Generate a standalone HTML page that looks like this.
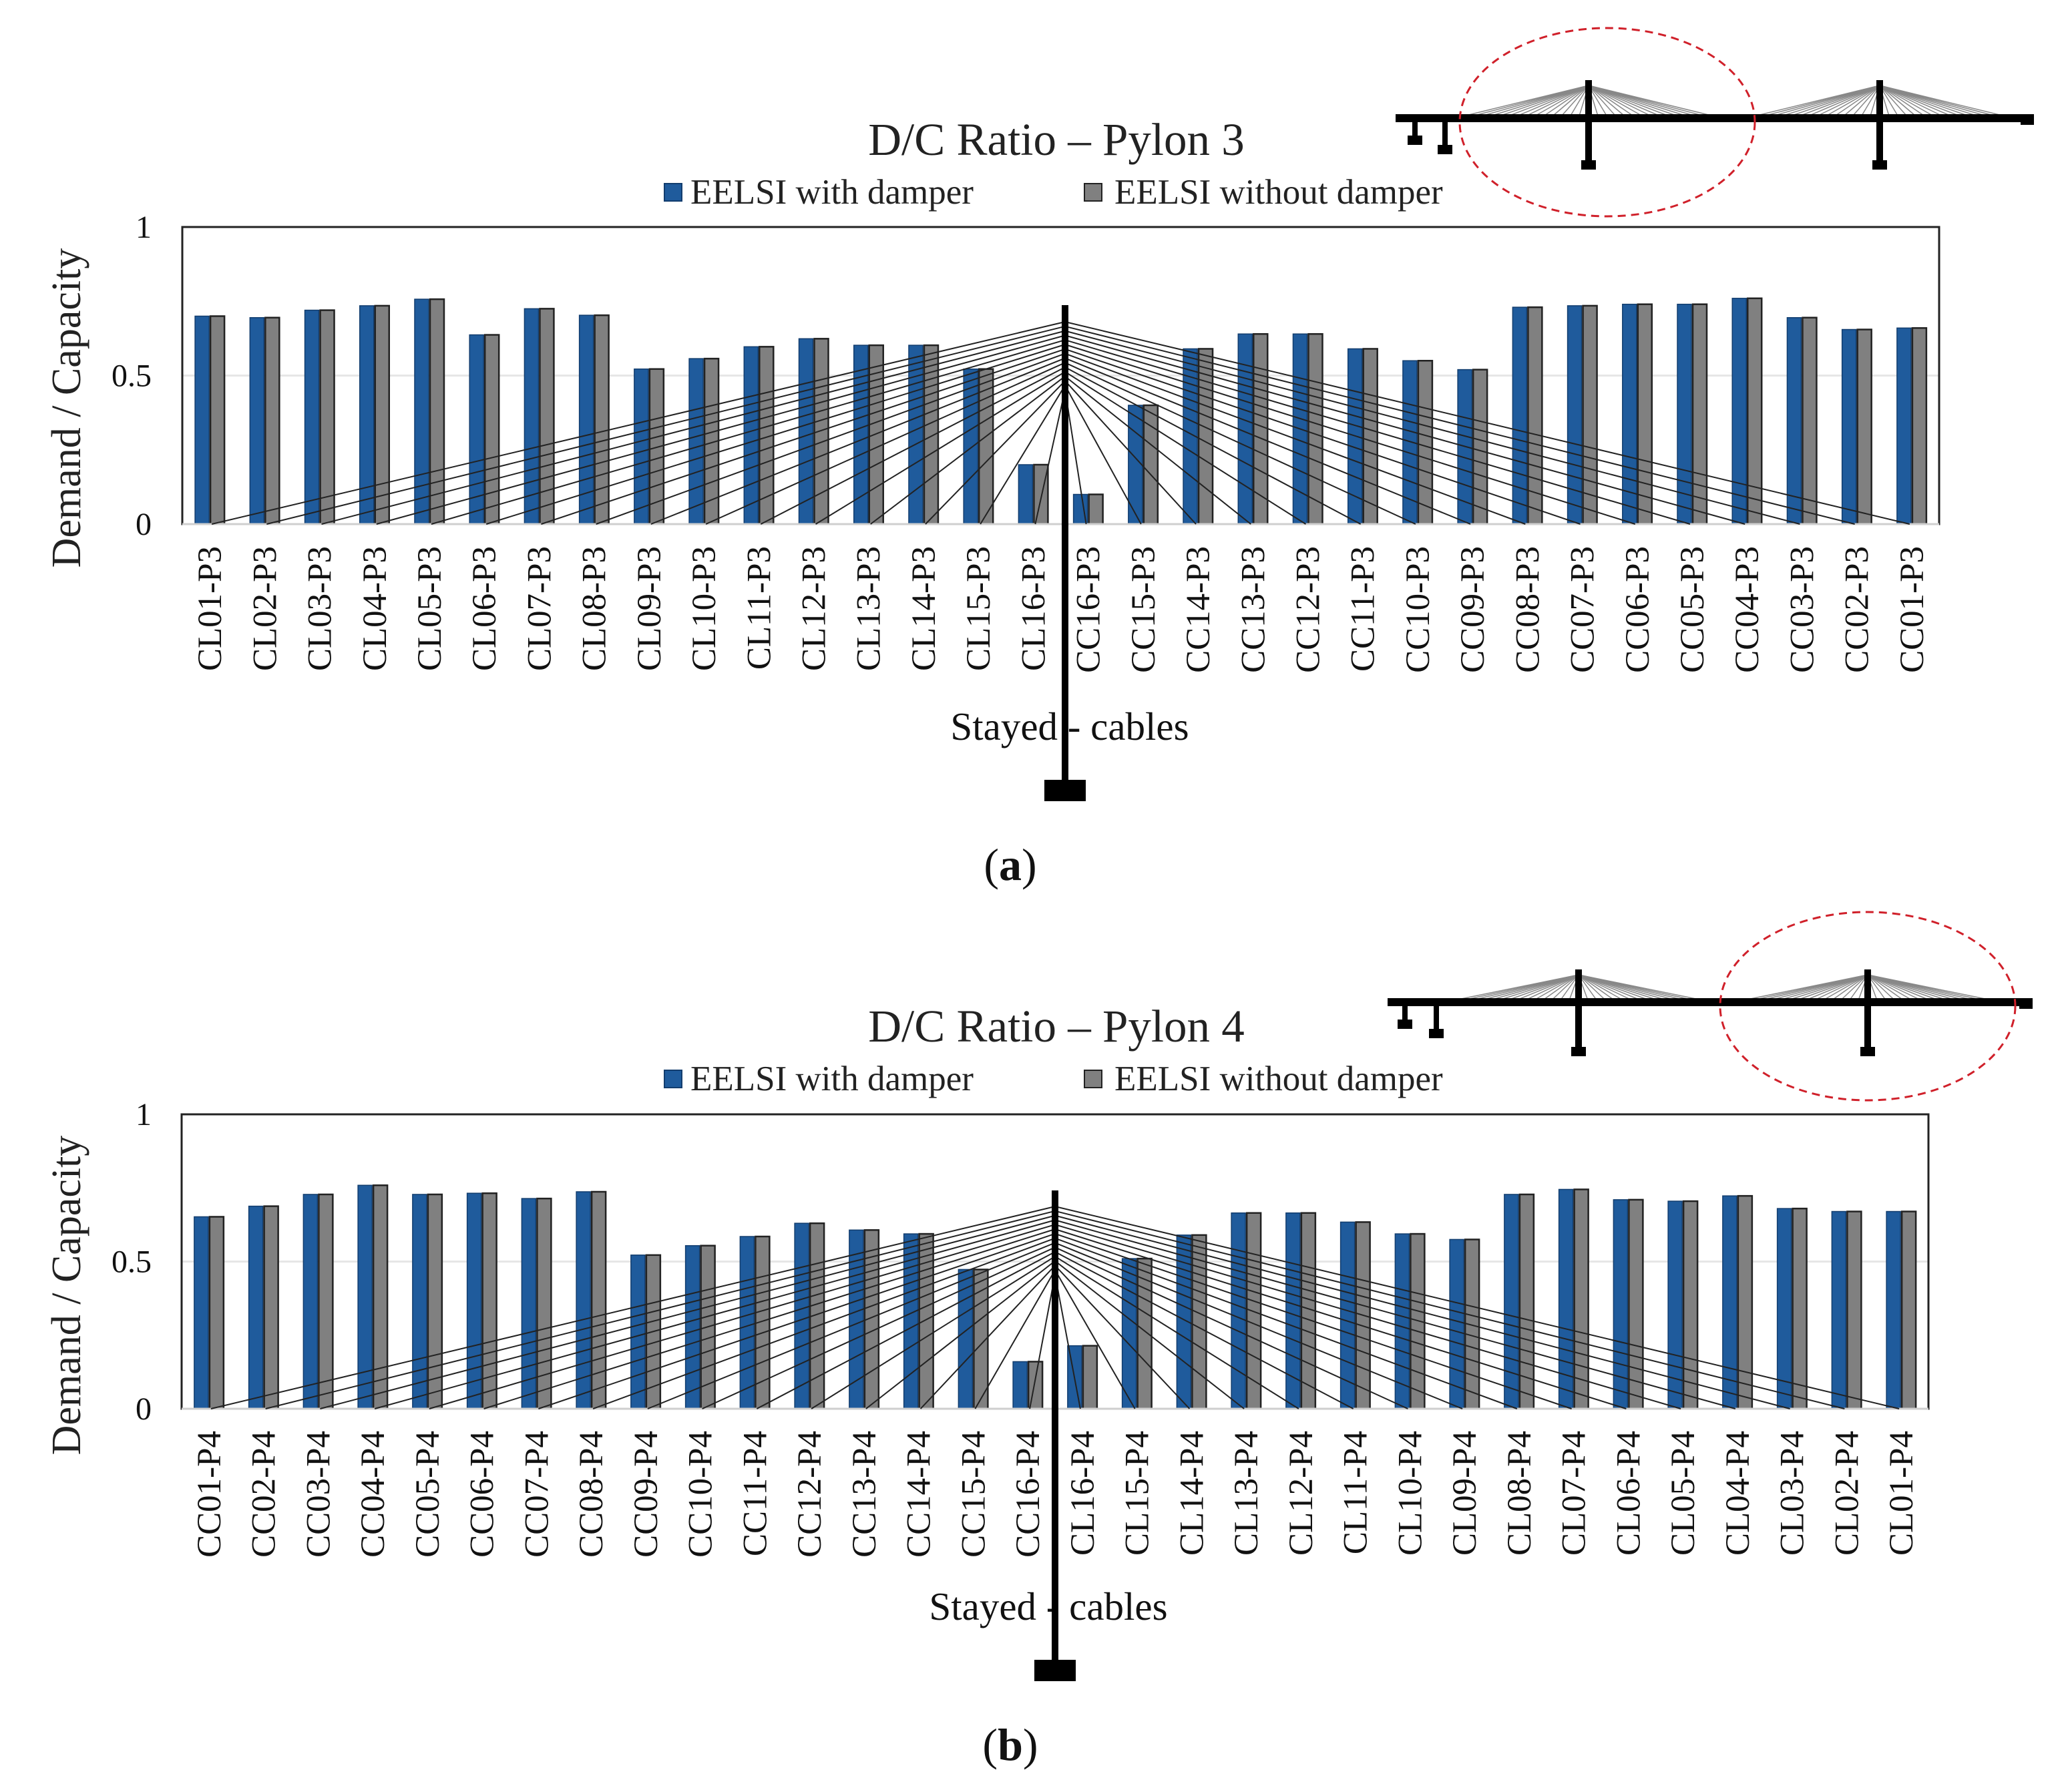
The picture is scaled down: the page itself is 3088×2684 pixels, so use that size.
<!DOCTYPE html>
<html><head><meta charset="utf-8">
<style>
html,body{margin:0;padding:0;background:#fff;}
svg{display:block;font-family:"Liberation Serif",serif;}
</style></head>
<body>
<svg id="root" width="3088" height="2684" viewBox="0 0 3088 2684" xmlns="http://www.w3.org/2000/svg"></svg>
<script>
const catsA = ["CL01-P3","CL02-P3","CL03-P3","CL04-P3","CL05-P3","CL06-P3","CL07-P3","CL08-P3","CL09-P3","CL10-P3","CL11-P3","CL12-P3","CL13-P3","CL14-P3","CL15-P3","CL16-P3","CC16-P3","CC15-P3","CC14-P3","CC13-P3","CC12-P3","CC11-P3","CC10-P3","CC09-P3","CC08-P3","CC07-P3","CC06-P3","CC05-P3","CC04-P3","CC03-P3","CC02-P3","CC01-P3"];
const withDamperA = [0.70,0.695,0.72,0.735,0.757,0.637,0.725,0.703,0.522,0.557,0.597,0.624,0.602,0.602,0.522,0.20,0.10,0.40,0.59,0.64,0.64,0.59,0.55,0.52,0.73,0.735,0.74,0.74,0.76,0.695,0.655,0.66];
const withoutDamperA = [0.70,0.695,0.72,0.735,0.757,0.637,0.725,0.703,0.522,0.557,0.597,0.624,0.602,0.602,0.522,0.20,0.10,0.40,0.59,0.64,0.64,0.59,0.55,0.52,0.73,0.735,0.74,0.74,0.76,0.695,0.655,0.66];
const catsB = ["CC01-P4","CC02-P4","CC03-P4","CC04-P4","CC05-P4","CC06-P4","CC07-P4","CC08-P4","CC09-P4","CC10-P4","CC11-P4","CC12-P4","CC13-P4","CC14-P4","CC15-P4","CC16-P4","CL16-P4","CL15-P4","CL14-P4","CL13-P4","CL12-P4","CL11-P4","CL10-P4","CL09-P4","CL08-P4","CL07-P4","CL06-P4","CL05-P4","CL04-P4","CL03-P4","CL02-P4","CL01-P4"];
const withDamperB = [0.652,0.688,0.728,0.759,0.728,0.732,0.714,0.737,0.522,0.554,0.585,0.63,0.607,0.594,0.473,0.16,0.214,0.51,0.59,0.665,0.665,0.634,0.594,0.575,0.728,0.745,0.71,0.705,0.723,0.68,0.67,0.67];
const withoutDamperB = [0.652,0.688,0.728,0.759,0.728,0.732,0.714,0.737,0.522,0.554,0.585,0.63,0.607,0.594,0.473,0.16,0.214,0.51,0.59,0.665,0.665,0.634,0.594,0.575,0.728,0.745,0.71,0.705,0.723,0.68,0.67,0.67];
const yTicks = [0, 0.5, 1];
const yTickLabels = ["0","0.5","1"];

const NS="http://www.w3.org/2000/svg";
const root=document.getElementById('root');
function mk(tag,attrs,parent,text){const e=document.createElementNS(NS,tag);for(const k in attrs)e.setAttribute(k,attrs[k]);if(text!==undefined)e.textContent=text;(parent||root).appendChild(e);return e;}

function chart(cfg){
  const g=mk('g',{});
  
  
  const L=cfg.left,R=cfg.right,T=cfg.top,Z=cfg.zero;
  const y=v=>Z-(Z-T)*v;
  const n=cfg.cats.length, cw=(R-L)/n;
  const cx=i=>L+cw*(i+0.5);
  yTicks.forEach((t,i)=>{
    if(t>0&&t<1){const gl=mk('line',{x1:L,x2:R,y1:y(t),y2:y(t),stroke:'#e6e6e6','stroke-width':3},g);
      }
    const tl=mk('text',{x:227,y:y(t)+16,'text-anchor':'end','font-size':48,fill:'#111'},g,yTickLabels[i]);
    
  });
  const fr=mk('rect',{x:L,y:T,width:R-L,height:Z-T,fill:'none',stroke:'#222','stroke-width':3},g);
  
  cfg.a.forEach((v,i)=>{
    const c=cx(i);
    const b1=mk('rect',{x:c-22,y:y(v),width:21,height:Z-y(v),fill:'#1f5b9c',stroke:'#123d6e','stroke-width':1.5},g);
    
    const v2=cfg.b[i];
    const b2=mk('rect',{x:c+1,y:y(v2),width:21,height:Z-y(v2),fill:'#808080',stroke:'#222','stroke-width':2.5},g);
    
  });
  const ax=mk('line',{x1:L,x2:R,y1:Z,y2:Z,stroke:'#cfcfcf','stroke-width':3},g);
  
  cfg.cats.forEach((c,i)=>{
    const t=mk('text',{x:0,y:0,'text-anchor':'end','font-size':51,fill:'#111',transform:`translate(${cx(i)+17},${Z+33}) rotate(-90)`},g,c);
    
  });
  const half=n/2, px=cfg.pylonX;
  for(let i=0;i<half;i++){
    const hy=cfg.apexTop+(cfg.apexBot-cfg.apexTop)*(i/(half-1));
    const l1=mk('line',{x1:cx(i)+3,y1:Z,x2:px,y2:hy,stroke:'#222','stroke-width':2},g);
    
    const l2=mk('line',{x1:cx(n-1-i)-3,y1:Z,x2:px,y2:hy,stroke:'#222','stroke-width':2},g);
    
  }
  const st=mk('text',{x:cfg.stayX,y:cfg.stayY+19,'text-anchor':'middle','font-size':59,fill:'#111'},g,'Stayed - cables');
  
  const pl=mk('rect',{x:px-5,y:cfg.pylTop,width:10,height:cfg.baseY-cfg.pylTop,fill:'#000'},g);
  
  const pb=mk('rect',{x:px-31,y:cfg.baseY,width:62,height:32,fill:'#000'},g);
  
  const ti=mk('text',{x:1582,y:cfg.titleY+23,'text-anchor':'middle','font-size':69,fill:'#222'},g,cfg.title);
  
  const s1=mk('rect',{x:995,y:cfg.legY-13,width:26,height:26,fill:'#1f5b9c',stroke:'#123d6e','stroke-width':2},g);
  
  const t1=mk('text',{x:1034,y:cfg.legY+17,'font-size':53,fill:'#222'},g,'EELSI with damper');
  
  const s2=mk('rect',{x:1624,y:cfg.legY-13,width:26,height:26,fill:'#808080',stroke:'#222','stroke-width':2},g);
  
  const t2=mk('text',{x:1669,y:cfg.legY+17,'font-size':53,fill:'#222'},g,'EELSI without damper');
  
  const yt=mk('text',{x:0,y:0,'text-anchor':'middle','font-size':62,fill:'#222',transform:`translate(${120},${cfg.yTitleY}) rotate(-90)`},g,'Demand /  Capacity');
  
  const lb=mk('text',{x:1513,y:cfg.labY+24,'text-anchor':'middle','font-size':68,fill:'#111'},g);
  
  lb.innerHTML='(<tspan font-weight="bold">'+cfg.letter+'</tspan>)';
}

function bridge(cfg){
  const g=mk('g',{});
  
  
  const d=cfg.deckY;
  cfg.pylons.forEach(p=>{
    for(let k=0;k<14;k++){
      const f=k/13;
      mk('line',{x1:p,y1:cfg.pTop+8,x2:p-200+f*185,y2:d,stroke:'#888','stroke-width':1.5},g);
      mk('line',{x1:p,y1:cfg.pTop+8,x2:p+200-f*185,y2:d,stroke:'#888','stroke-width':1.5},g);
    }
    mk('rect',{x:p-5,y:cfg.pTop,width:10,height:cfg.pFoot-cfg.pTop,fill:'#000'},g);
    mk('rect',{x:p-11,y:cfg.pFoot,width:22,height:14,fill:'#000'},g);
  });
  mk('rect',{x:cfg.x1,y:d-6,width:cfg.x2-cfg.x1,height:12,fill:'#000'},g);
  mk('rect',{x:cfg.x2-20,y:d-4,width:20,height:14,fill:'#000'},g);
  cfg.piers.forEach((p,i)=>{
    mk('rect',{x:p-4,y:d,width:8,height:28+i*14,fill:'#000'},g);
    mk('rect',{x:p-11,y:d+26+i*14,width:22,height:14,fill:'#000'},g);
  });
  const el=mk('ellipse',{cx:cfg.ex,cy:cfg.ey,rx:221,ry:141,fill:'none',stroke:'#d0202a','stroke-width':3,'stroke-dasharray':'12 8'},g);
  
}

chart({name:'chart-pylon-3',cats:catsA,a:withDamperA,b:withoutDamperA,left:273,right:2904,top:340,zero:785,
  pylonX:1595,apexTop:482,apexBot:584,pylTop:457,baseY:1168,stayX:1602,stayY:1089,
  title:'D/C Ratio – Pylon 3',titleY:209,legY:288,yTitleY:611,labY:1294,letter:'a'});
chart({name:'chart-pylon-4',cats:catsB,a:withDamperB,b:withoutDamperB,left:272,right:2888,top:1669,zero:2110,
  pylonX:1580,apexTop:1807,apexBot:1909,pylTop:1783,baseY:2486,stayX:1570,stayY:2407,
  title:'D/C Ratio – Pylon 4',titleY:1537,legY:1616,yTitleY:1940,labY:2612,letter:'b'});
bridge({name:'bridge-diagram-top',deckY:177,x1:2090,x2:3046,pylons:[2379,2815],pTop:120,pFoot:240,piers:[2119,2164],ex:2407,ey:183});
bridge({name:'bridge-diagram-bottom',deckY:1501,x1:2078,x2:3044,pylons:[2364,2797],pTop:1452,pFoot:1568,piers:[2104,2151],ex:2797,ey:1507});
</script>
</body></html>
